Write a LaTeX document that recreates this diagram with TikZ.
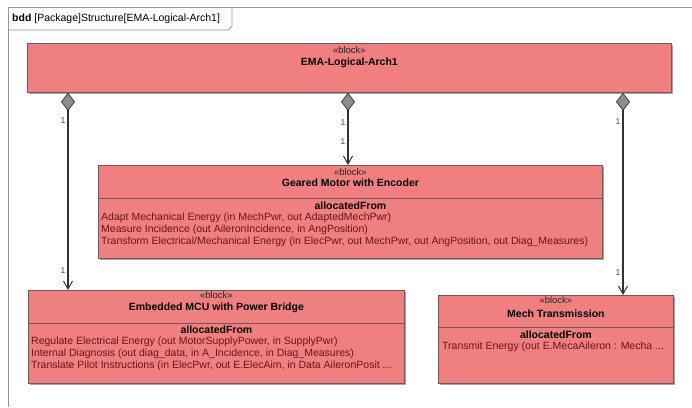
\documentclass[tikz,border=0pt]{standalone}
\usepackage{fontspec}
\setmainfont{Liberation Sans}
\usetikzlibrary{arrows.meta,positioning,shadows}
\definecolor{blockfill}{RGB}{240,128,128}
\definecolor{blockline}{RGB}{120,85,85}
\definecolor{bodytext}{RGB}{105,20,25}
\definecolor{framegray}{RGB}{150,150,150}

\begin{document}
\begin{tikzpicture}[x=1pt,y=-1pt,
  blockbox/.style={draw=blockline,fill=blockfill,line width=.8pt,anchor=north west,inner sep=0pt,
    drop shadow={shadow xshift=1.5pt,shadow yshift=-1.5pt,opacity=.35,fill=black}},
  stereo/.style={font=\fontsize{9.5}{10}\selectfont,text=black!85,inner sep=0pt},
  blockname/.style={font=\fontsize{10.5}{11}\selectfont\bfseries,inner sep=0pt},
  features/.style={font=\fontsize{10.5}{12}\selectfont,text=bodytext,align=left,anchor=north west,inner sep=0pt},
  comp/.style={draw=black!80,line width=1.1pt,
    {Diamond[fill=black!45,length=18pt,width=14pt,line width=.7pt]}-{Straight Barb[length=8pt,width=9pt,line width=1pt]}},
  mult/.style={font=\fontsize{8.5}{9}\selectfont,text=black!70,left=2pt,inner sep=0pt}]
  \useasboundingbox[fill=white] (0,0) rectangle (692,407);
  % diagram frame and its tab
  \draw[framegray,line width=.8pt] (8,407) -- (8,7) -- (692,7);
  \draw[framegray,line width=.8pt] (8,30) -- (228,30) -- (232,26) -- (232,7);
  \node[anchor=west,font=\fontsize{10.5}{11}\selectfont,inner sep=0pt] (Tab) at (12,19)
    {\textbf{bdd} [Package]Structure[EMA-Logical-Arch1]};

  % blocks
  \node[blockbox,minimum width=644pt,minimum height=49pt] (EMA) at (27,43) {};
  \node[blockbox,minimum width=504pt,minimum height=93pt] (Motor) at (98,165) {};
  \node[blockbox,minimum width=376pt,minimum height=93pt] (MCU) at (28,290) {};
  \node[blockbox,minimum width=235pt,minimum height=88pt] (Mech) at (438,295) {};

  \node[stereo] (EMA_st) at ([yshift=-7pt]EMA.north) {«block»};
  \node[blockname] (EMA_nm) at ([yshift=-20pt]EMA.north) {EMA-Logical-Arch1};

  \node[stereo] (Motor_st) at ([yshift=-7pt]Motor.north) {«block»};
  \node[blockname] (Motor_nm) at ([yshift=-18pt]Motor.north) {Geared Motor with Encoder};
  \draw[blockline,line width=.8pt] ([yshift=-33pt]Motor.north west) -- ([yshift=-33pt]Motor.north east);
  \node[blockname] (Motor_af) at ([yshift=-41pt]Motor.north) {allocatedFrom};
  \node[features] (Motor_ft) at ([xshift=3pt,yshift=-48pt]Motor.north west)
    {Adapt Mechanical Energy (in MechPwr, out AdaptedMechPwr)\\
     Measure Incidence (out AileronIncidence, in AngPosition)\\
     Transform Electrical/Mechanical Energy (in ElecPwr, out MechPwr, out AngPosition, out Diag\_Measures)};

  \node[stereo] (MCU_st) at ([yshift=-5pt]MCU.north) {«block»};
  \node[blockname] (MCU_nm) at ([yshift=-18pt]MCU.north) {Embedded MCU with Power Bridge};
  \draw[blockline,line width=.8pt] ([yshift=-33pt]MCU.north west) -- ([yshift=-33pt]MCU.north east);
  \node[blockname] (MCU_af) at ([yshift=-40pt]MCU.north) {allocatedFrom};
  \node[features] (MCU_ft) at ([xshift=3pt,yshift=-47pt]MCU.north west)
    {Regulate Electrical Energy (out MotorSupplyPower, in SupplyPwr)\\
     Internal Diagnosis (out diag\_data, in A\_Incidence, in Diag\_Measures)\\
     Translate Pilot Instructions (in ElecPwr, out E.ElecAim, in Data AileronPosit ...};

  \node[stereo] (Mech_st) at ([yshift=-5pt]Mech.north) {«block»};
  \node[blockname] (Mech_nm) at ([yshift=-19pt]Mech.north) {Mech Transmission};
  \draw[blockline,line width=.8pt] ([yshift=-32pt]Mech.north west) -- ([yshift=-32pt]Mech.north east);
  \node[blockname] (Mech_af) at ([yshift=-40pt]Mech.north) {allocatedFrom};
  \node[features] (Mech_ft) at ([xshift=4pt,yshift=-47pt]Mech.north west)
    {Transmit Energy (out E.MecaAileron : Mecha ...};

  % composition links
  \coordinate (L) at (68,0);
  \coordinate (M) at (348,0);
  \coordinate (R) at (623,0);
  \path (EMA.south -| L) edge[comp] node[mult,pos=.14] {1} node[mult,pos=.9] {1} (MCU.north -| L)
        (EMA.south -| M) edge[comp] node[mult,pos=.41] {1} node[mult,pos=.68] {1} (Motor.north -| M)
        (EMA.south -| R) edge[comp] node[mult,pos=.14] {1} node[mult,pos=.89] {1} (Mech.north -| R);
\end{tikzpicture}
\end{document}
